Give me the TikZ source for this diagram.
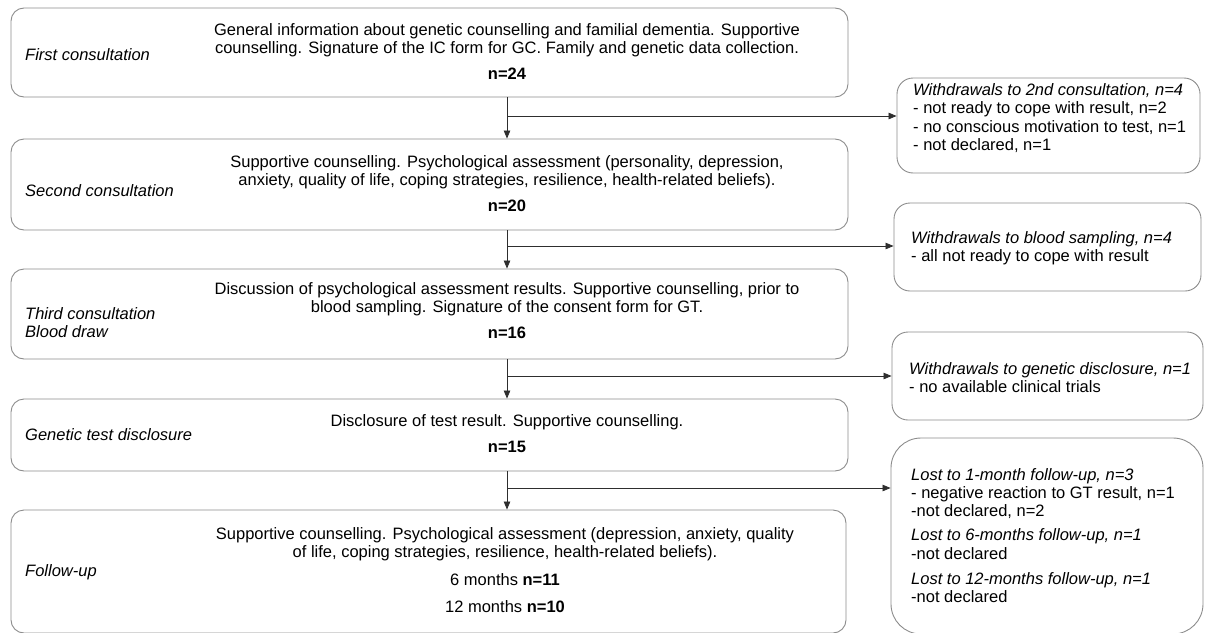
\documentclass[tikz,border=0pt]{standalone}
\usepackage{fontspec}
\setmainfont{Liberation Sans}
\usetikzlibrary{arrows.meta}
\definecolor{boxgray}{HTML}{8C8C8C}
\definecolor{arrgray}{HTML}{2E2E2E}
\begin{document}
\begin{tikzpicture}[x=1pt,y=-1pt,
  box/.style={draw=boxgray, line width=0.9pt, rounded corners=13pt, inner sep=0pt},
  rbox/.style={draw=boxgray, line width=0.9pt, rounded corners=16pt, inner sep=0pt},
  txt/.style={font=\fontsize{16.5}{18}\selectfont, align=center, inner sep=0pt},
  lab/.style={font=\fontsize{16.5}{18}\selectfont\itshape, align=left, anchor=west, inner sep=0pt},
  rtxt/.style={font=\fontsize{16.5}{18.3}\selectfont, align=left, anchor=west, inner sep=0pt},
  arr/.style={draw=arrgray, line width=0.8pt, -{Triangle[length=8pt,width=6.5pt]}}]
\useasboundingbox (0,0) rectangle (1205,632);
% left boxes
\node[box, minimum width=837pt, minimum height=89pt] (b1) at (429.5,52.5) {};
\node[box, minimum width=837pt, minimum height=91pt] (b2) at (429.5,184.5) {};
\node[box, minimum width=837pt, minimum height=90pt] (b3) at (429.5,314) {};
\node[box, minimum width=837pt, minimum height=72pt] (b4) at (429.5,435) {};
\node[box, minimum width=835pt, minimum height=123pt] (b5) at (428.5,571.5) {};
% right boxes
\node[rbox, minimum width=303pt, minimum height=95pt] (r1) at (1048.5,125.5) {};
\node[rbox, minimum width=307pt, minimum height=88pt] (r2) at (1047.5,247) {};
\node[rbox, minimum width=311pt, minimum height=88pt] (r3) at (1047.5,376) {};
\node[rbox, rounded corners=30pt, minimum width=312pt, minimum height=196pt] (r4) at (1047,536) {};
% labels
\node[lab] (l1) at (25,55) {First consultation};
\node[lab] (l2) at (25,191) {Second consultation};
\node[lab] (l3) at (25,323) {Third consultation\\Blood draw};
\begin{scope}
\clip (0,400) rectangle (191,470);
\node[lab] (l4) at (25,435) {Genetic test disclosure};
\end{scope}
\node[lab] (l5) at (25,572) {Follow-up};
% main texts
\node[txt] (t1) at (507,52) {General information about genetic counselling and familial dementia. Supportive\\counselling. Signature of the IC form for GC. Family and genetic data collection.\\[8pt]\textbf{n=24}};
\node[txt] (t2) at (507,184) {Supportive counselling. Psychological assessment (personality, depression,\\anxiety, quality of life, coping strategies, resilience, health-related beliefs).\\[8pt]\textbf{n=20}};
\node[txt] (t3) at (507,311) {Discussion of psychological assessment results. Supportive counselling, prior to\\blood sampling. Signature of the consent form for GT.\\[8pt]\textbf{n=16}};
\node[txt] (t4) at (507,434) {Disclosure of test result. Supportive counselling.\\[8pt]\textbf{n=15}};
\node[txt] (t5) at (505,570) {Supportive counselling. Psychological assessment (depression, anxiety, quality\\of life, coping strategies, resilience, health-related beliefs).\\[10pt]6 months \textbf{n=11}\\[9pt]12 months \textbf{n=10}};
% right texts
\node[rtxt] (s1) at (913,118) {\textit{Withdrawals to 2nd consultation, n=4}\\- not ready to cope with result, n=2\\- no conscious motivation to test, n=1\\- not declared, n=1};
\node[rtxt] (s2) at (911,248) {\textit{Withdrawals to blood sampling, n=4}\\- all not ready to cope with result};
\node[rtxt] (s3) at (909,377.5) {\textit{Withdrawals to genetic disclosure, n=1}\\- no available clinical trials};
\node[rtxt] (s4) at (911,535.5) {\textit{Lost to 1-month follow-up, n=3}\\- negative reaction to GT result, n=1\\-not declared, n=2\\[6pt]\textit{Lost to 6-months follow-up, n=1}\\-not declared\\[7pt]\textit{Lost to 12-months follow-up, n=1}\\-not declared};
% junctions
\coordinate (j1) at (507,116);
\coordinate (j2) at (507,246);
\coordinate (j3) at (507,376);
\coordinate (j4) at (507,488);
% connectors
\draw[arr] (b1.south -| j1) -- (b2.north -| j1);
\draw[arr] (b2.south -| j2) -- (b3.north -| j2);
\draw[arr] (b3.south -| j3) -- (b4.north -| j3);
\draw[arr] (b4.south -| j4) -- (b5.north -| j4);
\draw[arr] (j1) -- (j1 -| r1.west);
\draw[arr] (j2) -- (j2 -| r2.west);
\draw[arr] (j3) -- (j3 -| r3.west);
\draw[arr] (j4) -- (j4 -| r4.west);
\end{tikzpicture}
\end{document}
